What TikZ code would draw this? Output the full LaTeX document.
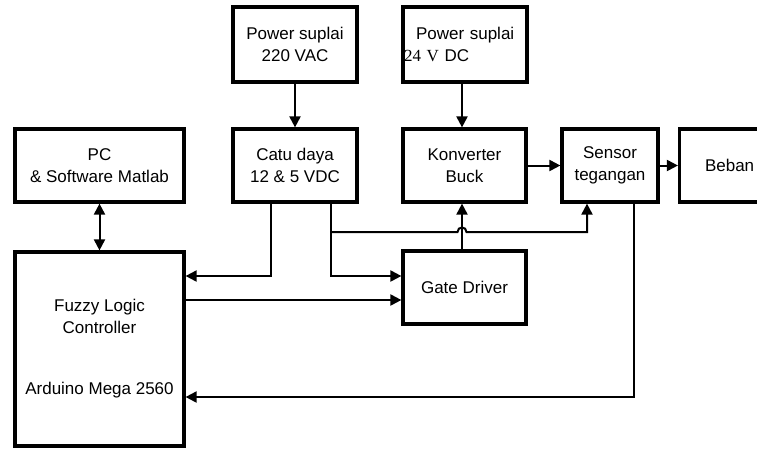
\documentclass[tikz,border=0pt]{standalone}
\usepackage{fontspec}
\setmainfont{Liberation Sans}
\newfontfamily\hurufserif{Liberation Serif}
\usepackage{tikz}
\usetikzlibrary{arrows.meta,calc}

\tikzset{
  blok/.style={draw, line width=3.2pt, inner sep=0pt, align=center,
    minimum width=124pt, minimum height=73pt,
    font=\fontsize{17}{22}\selectfont},
  garis/.style={line width=2pt, -{Triangle[length=11pt,width=11pt]}},
  garisdua/.style={line width=2pt, {Triangle[length=11pt,width=11pt]}-{Triangle[length=11pt,width=11pt]}}
}

\begin{document}
\begin{tikzpicture}[x=1pt, y=-1pt]

\clip (0,0) rectangle (757,448);

\coordinate (kiri) at (271, 276);
\coordinate (kanan) at (331, 276);
\coordinate (cabang) at (331, 232);
\coordinate (lompat) at (462, 232);
\coordinate (belok) at (587, 232);
\coordinate (sinyal) at (300, 300);
\coordinate (umpan) at (634, 397);

\node[blok, minimum height=75pt] (ps220) at (295, 44.5) {Power suplai\\220 VAC};
\node[blok, minimum height=75pt, text width=122pt, inner xsep=1pt, align=left] (ps24) at (465, 44.5)
  {\hspace{12pt}Power suplai\\{\hurufserif 24 V} DC};

\node[blok, minimum width=169pt] (pc) at (99.5, 165.5) {PC\\\& Software Matlab};
\node[blok] (catu) at (295, 165.5) {Catu daya\\12 \& 5 VDC};
\node[blok, minimum width=123pt] (buck) at (464.5, 165.5) {Konverter\\Buck};
\node[blok, minimum width=96pt] (sensor) at (610, 165.5) {Sensor\\tegangan};
\node[blok, text width=73pt, inner xsep=12pt, align=left] (beban) at (741.5, 165.5) {Beban};

\node[blok, minimum width=169pt, minimum height=194pt] (fuzzy) at (99.5, 349)
  {Fuzzy Logic\\Controller\\[39pt]Arduino Mega 2560};
\node[blok, minimum width=123pt] (gate) at (464.5, 287.5) {Gate Driver};

\draw[garis] (ps220) -- (catu);
\draw[garis] (ps24.south -| lompat) -- (buck.north -| lompat);
\draw[garisdua] (pc) -- (fuzzy);

\draw[garis] (buck) -- (sensor);
\draw[garis] (sensor) -- (beban);

\draw[garis] (catu.south -| kiri) |- (fuzzy.east |- kiri);
\draw[garis] (catu.south -| kanan) |- (gate.west |- kanan);
\draw[garis] (cabang) -- ($(lompat)+(-4.5,0)$)
  .. controls ($(lompat)+(-4.5,-6)$) and ($(lompat)+(4.5,-6)$) .. ($(lompat)+(4.5,0)$)
  -- (belok) -- (sensor.south -| belok);
\draw[garis] (gate.north -| lompat) -- (buck.south -| lompat);

\draw[garis] (fuzzy.east |- sinyal) -- (gate.west |- sinyal);
\draw[garis] (sensor.south -| umpan) |- (fuzzy.east |- umpan);

\end{tikzpicture}
\end{document}
